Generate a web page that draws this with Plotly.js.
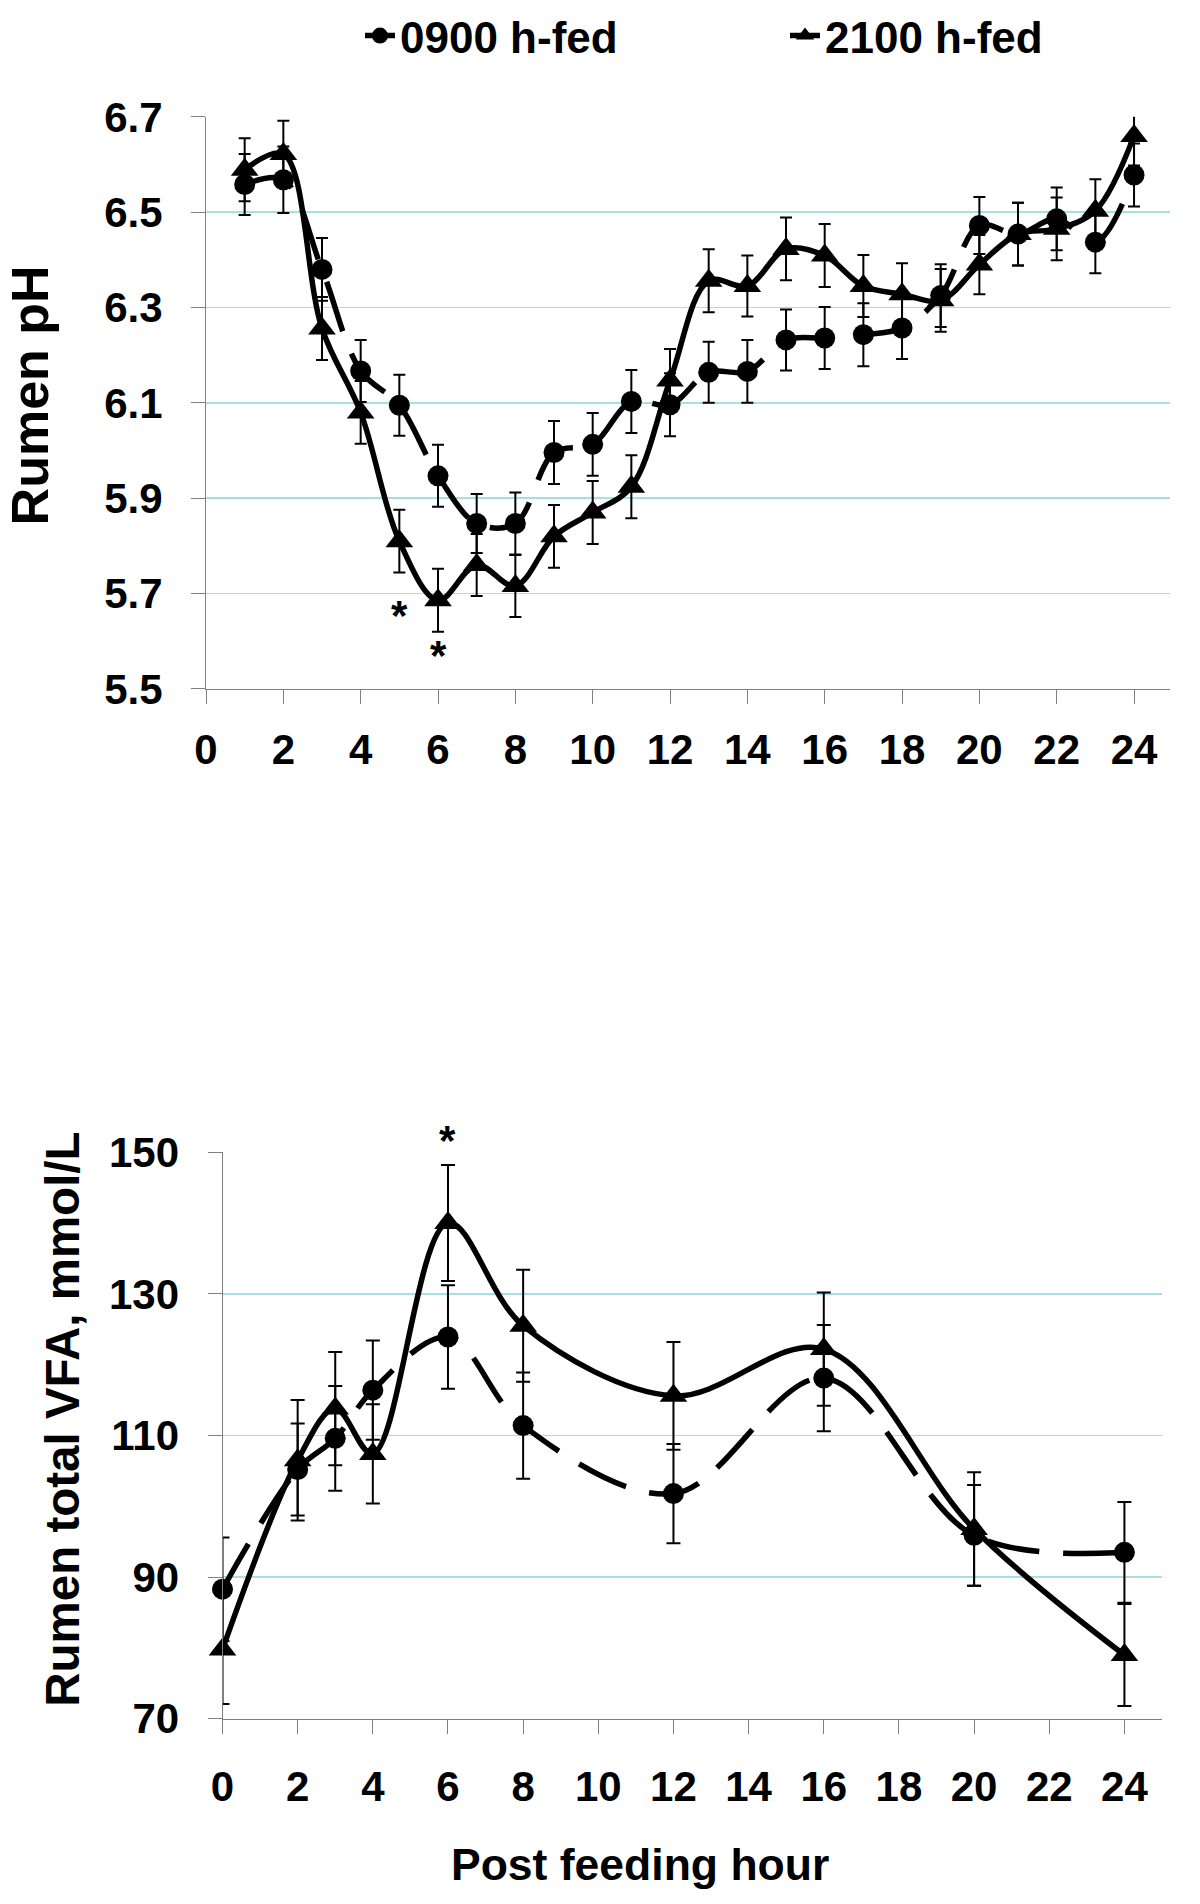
<!DOCTYPE html>
<html>
<head>
<meta charset="utf-8">
<script src="https://cdn.plot.ly/plotly-3.0.1.min.js"></script>
<style>
html,body{margin:0;padding:0;background:#ffffff;}
#chart{width:1200px;height:1904px;}
</style>
</head>
<body>
<div id="chart"></div>
<script>
// ---------- Data: rumen pH (top panel) ----------
const phHours = [1,2,3,4,5,6,7,8,9,10,11,12,13,14,15,16,17,18,19,20,21,22,23,24];
const phFed0900 = [6.558,6.568,6.380,6.167,6.095,5.947,5.847,5.847,5.996,6.013,6.103,6.096,
                   6.164,6.166,6.232,6.236,6.243,6.257,6.325,6.472,6.454,6.486,6.437,6.578];
const phFed0900SE = [0.064,0.070,0.066,0.065,0.064,0.065,0.062,0.065,0.066,0.066,0.066,0.066,
                     0.064,0.066,0.064,0.065,0.066,0.065,0.066,0.060,0.066,0.066,0.065,0.066];
const phFed2100 = [6.589,6.622,6.256,6.080,5.810,5.686,5.760,5.716,5.820,5.870,5.924,6.147,
                   6.356,6.345,6.423,6.409,6.345,6.328,6.315,6.390,6.454,6.465,6.503,6.660];
const phFed2100SE = [0.066,0.070,0.066,0.066,0.066,0.066,0.065,0.065,0.066,0.066,0.066,0.066,
                     0.066,0.064,0.066,0.066,0.065,0.065,0.066,0.062,0.066,0.066,0.066,0.062];

// ---------- Data: rumen total VFA (bottom panel) ----------
const vfaHours = [0,2,3,4,6,8,12,16,20,24];
const vfaFed0900 = [88.3,105.2,109.6,116.4,123.9,111.4,101.8,118.1,95.9,93.5];
const vfaFed0900SE = [7.3,6.5,7.4,7.0,7.3,7.5,7.0,7.5,7.1,7.1];
const vfaFed2100 = [79.8,106.5,113.8,107.4,140.0,125.5,115.6,122.2,96.8,79.0];
const vfaFed2100SE = [7.7,8.5,8.0,7.0,8.2,7.9,7.6,8.0,8.0,7.2];

// ---------- Labels ----------
const seriesNames = ['0900 h-fed','2100 h-fed'];
const phTitle = 'Rumen pH';
const vfaTitle = 'Rumen total VFA, mmol/L';
const xTitle = 'Post feeding hour';
const phStarHours = [5,6];
const phStarValues = [5.666,5.582];
const vfaStarHours = [6];

const FONT = 'Liberation Sans, Arial, Helvetica, sans-serif';
const GRID = '#a6e0e2';
const AXIS = '#808080';
const DASH = '52px,24px';
const LW = 5.5;

function errBar(arr, w){
  return {type:'data', array:arr, symmetric:true, visible:true, color:'#000', thickness:2, width:w};
}

const traces = [
  {x:phHours, y:phFed0900, name:seriesNames[0], xaxis:'x', yaxis:'y', legend:'legend',
   mode:'lines+markers', cliponaxis:false,
   line:{color:'#000', width:LW, dash:DASH, shape:'spline', smoothing:1},
   marker:{symbol:'circle', size:21, color:'#000'},
   error_y:errBar(phFed0900SE,6)},
  {x:phHours, y:phFed2100, name:seriesNames[1], xaxis:'x', yaxis:'y', legend:'legend2',
   mode:'lines+markers', cliponaxis:false,
   line:{color:'#000', width:LW, shape:'spline', smoothing:1},
   marker:{symbol:'triangle-up', size:24, color:'#000'},
   error_y:errBar(phFed2100SE,6)},
  {x:vfaHours, y:vfaFed0900, name:seriesNames[0], xaxis:'x2', yaxis:'y2', showlegend:false,
   mode:'lines+markers', cliponaxis:false,
   line:{color:'#000', width:LW, dash:DASH, shape:'spline', smoothing:1},
   marker:{symbol:'circle', size:21, color:'#000'},
   error_y:errBar(vfaFed0900SE,7)},
  {x:vfaHours, y:vfaFed2100, name:seriesNames[1], xaxis:'x2', yaxis:'y2', showlegend:false,
   mode:'lines+markers', cliponaxis:false,
   line:{color:'#000', width:LW, shape:'spline', smoothing:1},
   marker:{symbol:'triangle-up', size:24, color:'#000'},
   error_y:errBar(vfaFed2100SE,7)}
];

const tickFont = {family:FONT, size:42, color:'#000', weight:700};

function xAxis(domain, range, anchor, standoff){
  return {domain:domain, range:range, anchor:anchor, tick0:0, dtick:2,
    ticks:'outside', ticklen:14, tickwidth:1, tickcolor:AXIS,
    showline:true, linecolor:AXIS, linewidth:1, showgrid:false, zeroline:false,
    tickfont:tickFont, ticklabelstandoff:standoff, fixedrange:true};
}
function yAxis(domain, range, anchor, dtick, fmt){
  return {domain:domain, range:range, anchor:anchor, tick0:range[0], dtick:dtick, tickformat:fmt,
    ticks:'outside', ticklen:14, tickwidth:1, tickcolor:AXIS,
    showline:true, linecolor:AXIS, linewidth:1, showgrid:true, gridcolor:GRID, gridwidth:1.5,
    zeroline:false, tickfont:tickFont, ticklabelstandoff:20, fixedrange:true};
}

const starFont = {family:FONT, size:42, color:'#000', weight:700};
const annotations = [];
phStarHours.forEach((h,i)=>annotations.push({xref:'x', yref:'y', x:h, y:phStarValues[i], text:'*',
  showarrow:false, font:starFont, yshift:-6}));
vfaStarHours.forEach((h)=>annotations.push({xref:'x2', yref:'paper', x:h, y:1-1133/1904, text:'*',
  showarrow:false, font:starFont, yanchor:'middle', yshift:-6}));
annotations.push({xref:'paper', yref:'paper', x:30/1200, y:1-393/1904, text:phTitle, textangle:-90,
  showarrow:false, xanchor:'center', yanchor:'middle', font:{family:FONT, size:52, color:'#000', weight:700}});
annotations.push({xref:'paper', yref:'paper', x:63/1200, y:1-1419/1904, text:vfaTitle, textangle:-90,
  showarrow:false, xanchor:'center', yanchor:'middle', font:{family:FONT, size:47.5, color:'#000', weight:700}});
annotations.push({xref:'paper', yref:'paper', x:640/1200, y:1-1864/1904, text:xTitle,
  showarrow:false, xanchor:'center', yanchor:'middle', font:{family:FONT, size:44.5, color:'#000', weight:700}});

const legendFont = {family:FONT, size:44, color:'#000', weight:700};
const layout = {
  width:1200, height:1904, margin:{l:0,r:0,t:0,b:0}, autosize:false,
  paper_bgcolor:'#fff', plot_bgcolor:'#fff',
  font:{family:FONT, color:'#000'},
  showlegend:true,
  legend:{x:360/1200, y:1-33/1904, xanchor:'left', yanchor:'middle', orientation:'h',
    font:legendFont, bgcolor:'rgba(0,0,0,0)', borderwidth:0, itemsizing:'trace'},
  legend2:{x:785/1200, y:1-33/1904, xanchor:'left', yanchor:'middle', orientation:'h',
    font:legendFont, bgcolor:'rgba(0,0,0,0)', borderwidth:0, itemsizing:'trace'},
  xaxis:xAxis([206/1200, 1170/1200], [0, 24.93], 'y', 10),
  yaxis:yAxis([1-687/1904, 1-114/1904], [5.5, 6.7], 'x', 0.2, '.1f'),
  xaxis2:xAxis([222.5/1200, 1162/1200], [0, 25], 'y2', 17),
  yaxis2:yAxis([1-1718.5/1904, 1-1151/1904], [70, 150], 'x2', 20, 'd'),
  annotations:annotations
};

Plotly.newPlot('chart', traces, layout, {staticPlot:true, displayModeBar:false});
</script>
</body>
</html>
